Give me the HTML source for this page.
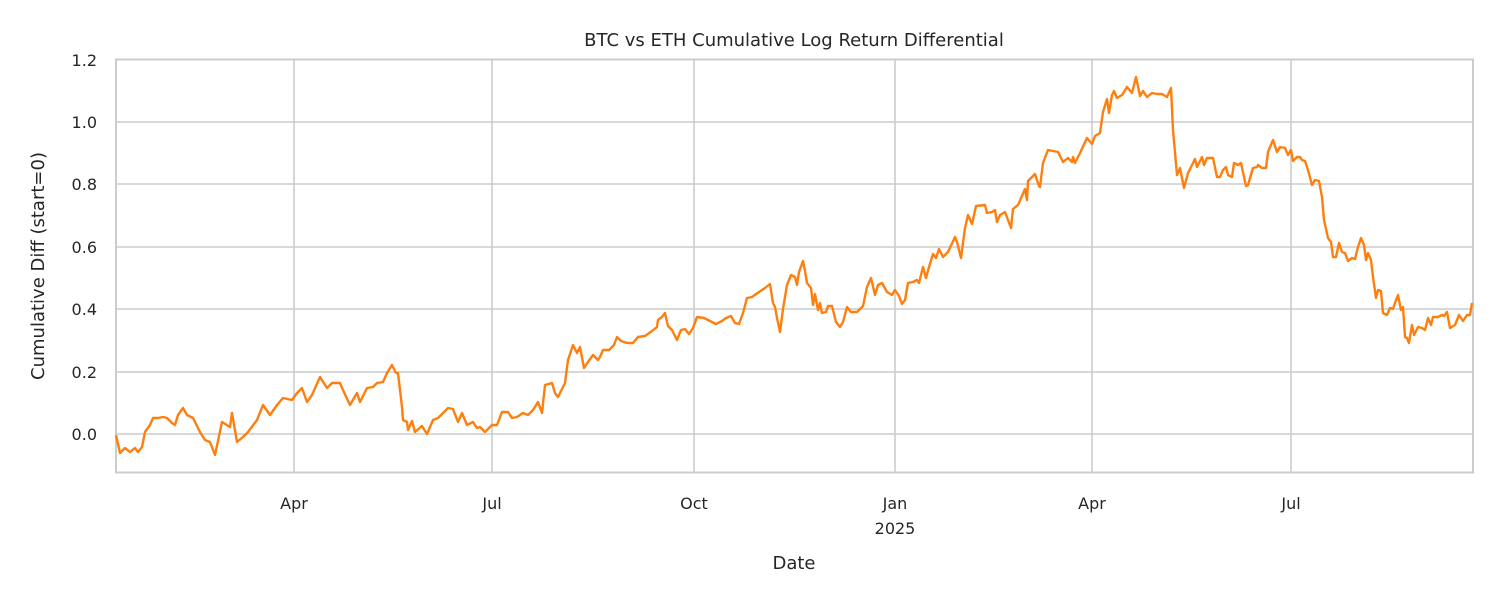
<!DOCTYPE html>
<html><head><meta charset="utf-8"><style>body{margin:0;background:#fff}svg{display:block}text{font-family:"DejaVu Sans","Liberation Sans",sans-serif;fill:#262626}</style></head>
<body>
<svg width="1500" height="600" viewBox="0 0 1500 600" xmlns="http://www.w3.org/2000/svg">
<rect width="1500" height="600" fill="#fff"/>
<g stroke="#cccccc" stroke-width="1.6">
<line x1="116" x2="1473" y1="434" y2="434"/><line x1="116" x2="1473" y1="372" y2="372"/><line x1="116" x2="1473" y1="309" y2="309"/><line x1="116" x2="1473" y1="247" y2="247"/><line x1="116" x2="1473" y1="184" y2="184"/><line x1="116" x2="1473" y1="122" y2="122"/>
<line x1="294" x2="294" y1="59" y2="472"/><line x1="492" x2="492" y1="59" y2="472"/><line x1="694" x2="694" y1="59" y2="472"/><line x1="895" x2="895" y1="59" y2="472"/><line x1="1092" x2="1092" y1="59" y2="472"/><line x1="1291" x2="1291" y1="59" y2="472"/>
</g>
<rect x="116" y="59.5" width="1357" height="413" fill="none" stroke="#cccccc" stroke-width="2"/>
<polyline fill="none" stroke="#ff7f0e" stroke-width="2.4" stroke-linejoin="round" points="116,435 120,453 125,448 130,452 135,448 138,452 142,447 145,432 150,425 153,418 158,418 163,417 167,418 172,423 175,425 178,415 183,408 187,415 193,418 200,432 205,440 210,442 215,455 222,422 230,427 232,413 237,442 243,437 248,432 257,420 263,405 270,415 277,405 283,398 292,400 297,393 302,388 307,402 312,395 320,377 327,388 332,383 340,383 343,390 350,405 357,393 360,402 367,388 373,387 377,383 383,382 387,373 392,365 396,373 398,373 402,407 403,420 407,422 408,430 412,421 415,432 422,426 427,434 433,420 438,418 442,414 448,408 453,409 458,422 462,413 467,425 473,422 477,428 480,427 485,432 492,425 497,425 502,412 508,412 512,418 517,417 523,413 528,415 533,410 538,402 542,413 545,385 552,383 555,393 558,397 565,383 568,360 573,345 577,353 580,347 584,368 588,362 593,355 598,360 600,357 603,350 609,350 614,345 617,337 621,341 627,343 633,343 638,337 645,336 652,331 657,327 658,320 662,317 665,313 668,326 672,330 677,340 681,330 685,329 689,334 693,328 697,317 704,318 710,321 716,324 722,321 726,318 731,316 735,323 739,324 743,313 747,298 752,297 756,294 759,292 765,288 770,284 773,303 775,307 777,318 780,332 783,309 787,285 791,275 795,277 797,285 799,272 803,261 805,271 807,283 811,288 813,305 815,294 818,310 820,303 822,313 826,312 828,306 832,306 836,322 840,327 843,322 847,307 851,312 857,312 863,306 867,287 871,278 875,295 878,285 882,283 887,292 892,295 895,290 899,296 902,304 905,300 908,283 913,282 917,280 919,283 923,267 926,278 929,267 933,254 936,258 939,249 943,257 948,252 955,237 957,242 961,258 965,228 968,215 972,224 976,206 985,205 987,213 992,212 995,210 997,222 1000,215 1005,212 1011,228 1013,209 1018,205 1025,189 1027,200 1028,181 1035,174 1039,186 1040,187 1043,163 1048,150 1053,151 1058,152 1063,162 1068,158 1072,162 1073,157 1075,163 1080,153 1087,138 1092,144 1095,136 1100,133 1103,112 1107,99 1109,113 1112,95 1114,91 1117,98 1122,95 1127,87 1132,93 1136,77 1140,96 1143,91 1147,97 1152,93 1157,94 1162,94 1167,97 1171,88 1173,130 1177,175 1180,168 1184,188 1188,173 1195,159 1197,167 1202,157 1204,165 1207,158 1213,158 1217,177 1220,177 1223,170 1226,167 1228,175 1232,177 1234,163 1238,165 1241,163 1246,186 1248,185 1253,168 1257,167 1258,165 1262,168 1266,168 1268,152 1273,140 1277,152 1280,147 1285,148 1288,155 1291,150 1293,161 1297,157 1300,157 1302,160 1305,161 1308,170 1312,185 1315,180 1319,181 1322,197 1324,220 1328,238 1331,242 1333,257 1336,257 1339,243 1342,252 1345,253 1348,261 1352,258 1355,259 1358,247 1361,238 1364,245 1366,260 1368,253 1371,260 1373,277 1376,298 1378,290 1381,291 1383,313 1387,315 1390,308 1393,309 1395,303 1398,295 1401,310 1403,307 1405,337 1407,338 1409,343 1412,325 1414,335 1418,327 1422,328 1425,330 1428,318 1431,325 1433,317 1438,317 1442,315 1444,316 1447,312 1450,328 1455,325 1459,315 1463,321 1467,315 1470,315 1472,303"/>
<g font-size="16" text-anchor="end">
<text x="97" y="440">0.0</text><text x="97" y="378">0.2</text><text x="97" y="315">0.4</text><text x="97" y="253">0.6</text><text x="97" y="190">0.8</text><text x="97" y="128">1.0</text><text x="97" y="66">1.2</text>
</g>
<g font-size="16" text-anchor="middle">
<text x="294" y="509">Apr</text><text x="492" y="509">Jul</text><text x="694" y="509">Oct</text><text x="895" y="509">Jan</text><text x="895" y="534">2025</text><text x="1092" y="509">Apr</text><text x="1291" y="509">Jul</text>
<text x="794" y="569" font-size="18">Date</text>
<text x="794" y="46" font-size="18">BTC vs ETH Cumulative Log Return Differential</text>
</g>
<text transform="translate(44,266) rotate(-90)" font-size="18" text-anchor="middle">Cumulative Diff (start=0)</text>
</svg>
</body></html>
